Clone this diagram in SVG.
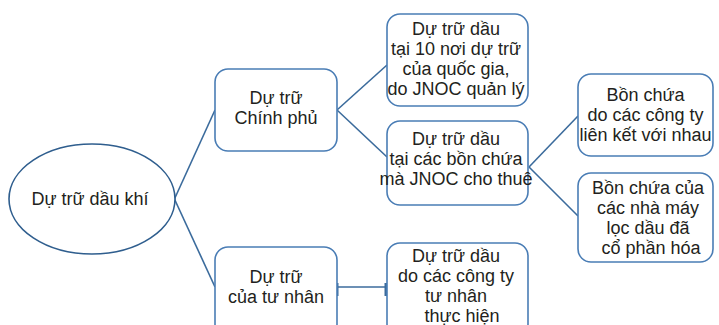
<svg xmlns="http://www.w3.org/2000/svg" width="719" height="325" viewBox="0 0 719 325">
<style>
.box{fill:#fff;stroke:#4a7db5;stroke-width:1.6}
.ell{fill:#fff;stroke:#2f5e8e;stroke-width:1.6}
.ln{stroke:#3b6b9c;stroke-width:1.6;fill:none}
.tk{stroke:#3b6b9c;stroke-width:3}
text{font-family:"Liberation Sans",Arial,sans-serif;font-size:18px;fill:#231f20;text-anchor:middle}
</style>
<rect width="719" height="325" fill="#fff"/>
<g id="connectors">
<line class="ln" x1="174" y1="200" x2="215" y2="110"/>
<line class="ln" x1="174" y1="198" x2="215" y2="287"/>
<line class="ln" x1="337" y1="110" x2="387" y2="65"/>
<line class="ln" x1="337" y1="110" x2="387" y2="157"/>
<line class="ln" x1="529" y1="167" x2="578" y2="116"/>
<line class="ln" x1="529" y1="167" x2="578" y2="216"/>
<line class="ln" x1="337" y1="287" x2="387" y2="287" stroke-width="2.4"/>
<line class="tk" x1="337" y1="283" x2="337" y2="296"/>
<line class="tk" x1="386" y1="283" x2="386" y2="296"/>
</g>
<g id="root">
<ellipse class="ell" cx="92" cy="199" rx="83" ry="55"/>
<text x="90" y="205">Dự trữ dầu khí</text>
</g>
<g id="gov">
<rect class="box" x="215" y="69" width="122" height="82" rx="13"/>
<text x="276" y="104">Dự trữ</text>
<text x="276" y="124">Chính phủ</text>
</g>
<g id="private">
<rect class="box" x="215" y="247" width="122" height="90" rx="13"/>
<text x="276" y="283">Dự trữ</text>
<text x="276" y="303">của tư nhân</text>
</g>
<g id="national">
<rect class="box" x="387" y="14" width="141" height="92" rx="13"/>
<text x="456" y="35">Dự trữ dầu</text>
<text x="456" y="55">tại 10 nơi dự trữ</text>
<text x="456" y="75">của quốc gia,</text>
<text x="456" y="95">do JNOC quản lý</text>
</g>
<g id="leased">
<rect class="box" x="387" y="121" width="141" height="84" rx="13"/>
<text x="456" y="145">Dự trữ dầu</text>
<text x="456" y="165">tại các bồn chứa</text>
<text x="456" y="185">mà JNOC cho thuê</text>
</g>
<g id="linked">
<rect class="box" x="578" y="74" width="135" height="82" rx="13"/>
<text x="645.5" y="101">Bồn chứa</text>
<text x="645.5" y="121">do các công ty</text>
<text x="645.5" y="141">liên kết với nhau</text>
</g>
<g id="refinery">
<rect class="box" x="578" y="173" width="135" height="89" rx="13"/>
<text x="648" y="194">Bồn chứa của</text>
<text x="648" y="214">các nhà máy</text>
<text x="648" y="234">lọc dầu đã</text>
<text x="651" y="254">cổ phần hóa</text>
</g>
<g id="companies">
<rect class="box" x="387" y="243" width="141" height="94" rx="13"/>
<text x="456" y="262">Dự trữ dầu</text>
<text x="456" y="282">do các công ty</text>
<text x="456" y="302">tư nhân</text>
<text x="462" y="322">thực hiện</text>
</g>
</svg>
